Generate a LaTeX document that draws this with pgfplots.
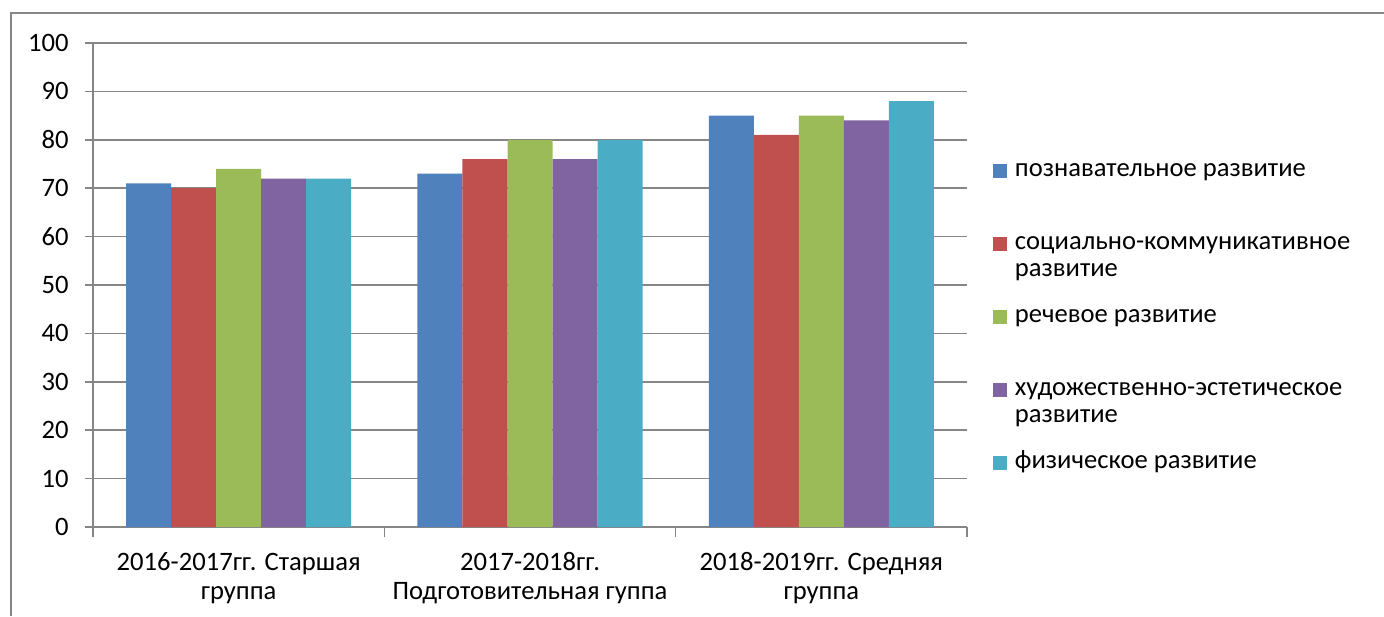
\documentclass[border=0pt]{standalone}
\usepackage{pgfplots}
\pgfplotsset{compat=1.18}
\usepackage{fontspec}
\setmainfont{Carlito}
\definecolor{c1}{HTML}{4F81BD}
\definecolor{c2}{HTML}{C0504D}
\definecolor{c3}{HTML}{9BBB59}
\definecolor{c4}{HTML}{8064A2}
\definecolor{c5}{HTML}{4BACC6}
\definecolor{gridgray}{HTML}{868686}
\newcommand\twoline[2]{\vtop{\baselineskip=13.5pt\hbox{#1}\hbox{#2}}}
\begin{document}
\fontsize{13.3}{14.5}\selectfont
\begin{tikzpicture}[x=1pt,y=1pt]
\useasboundingbox (0,0) rectangle (692,308);
\draw[gridgray, line width=0.7pt] (5.5,0) -- (5.5,301.5) -- (692,301.5);
\begin{axis}[
  at={(46.5pt,44.5pt)}, anchor=south west,
  scale only axis, width=437pt, height=242pt,
  xmin=-0.5, xmax=2.5, ymin=0, ymax=100, enlargelimits=false,
  ytick={0,10,...,100},
  xtick={0,1,2},
  xticklabels={{2016-2017гг. Старшая\\группа},{2017-2018гг.\\Подготовительная гуппа},{2018-2019гг. Средняя\\группа}},
  xticklabel style={align=center, yshift=-4pt},
  minor xtick={-0.5,0.5,1.5,2.5},
  axis lines*=left,
  axis line style={-, draw=gridgray, line width=0.75pt},
  ymajorgrids, major grid style={gridgray, line width=0.75pt},
  tick style={gridgray, line width=0.75pt},
  tick align=outside, major tick length=4pt, minor tick length=5pt,
  major x tick style={draw=none},
  yticklabel style={xshift=-3.6pt},
  /pgf/number format/assume math mode=true,
  tick label style={font=\fontsize{13.3}{14.5}\selectfont, text=black},
  ybar, bar width=0.1545,
  legend cell align=left,
  legend image code/.code={\fill[#1] (0pt,-0.5pt) rectangle (7pt,6.5pt);},
  legend style={at={(1.0297,0.7572)}, anchor=north west, draw=none, fill=none,
    inner sep=0pt, outer sep=0pt, row sep=2.5pt, column sep=4pt,
    font=\fontsize{13.3}{14.5}\selectfont,
    nodes={inner sep=0pt, text height=8pt, text depth=26pt},
    cells={anchor=base west}},
]
\addplot[fill=c1, draw=none, bar shift=-0.309] coordinates {(0,71) (1,73) (2,85)};
\addlegendentry{познавательное развитие}
\addplot[fill=c2, draw=none, bar shift=-0.1545] coordinates {(0,70) (1,76) (2,81)};
\addlegendentry{\twoline{социально-коммуникативное}{развитие}}
\addplot[fill=c3, draw=none, bar shift=0] coordinates {(0,74) (1,80) (2,85)};
\addlegendentry{речевое развитие}
\addplot[fill=c4, draw=none, bar shift=0.1545] coordinates {(0,72) (1,76) (2,84)};
\addlegendentry{\twoline{художественно-эстетическое}{развитие}}
\addplot[fill=c5, draw=none, bar shift=0.309] coordinates {(0,72) (1,80) (2,88)};
\addlegendentry{физическое развитие}
\end{axis}
\end{tikzpicture}
\end{document}
